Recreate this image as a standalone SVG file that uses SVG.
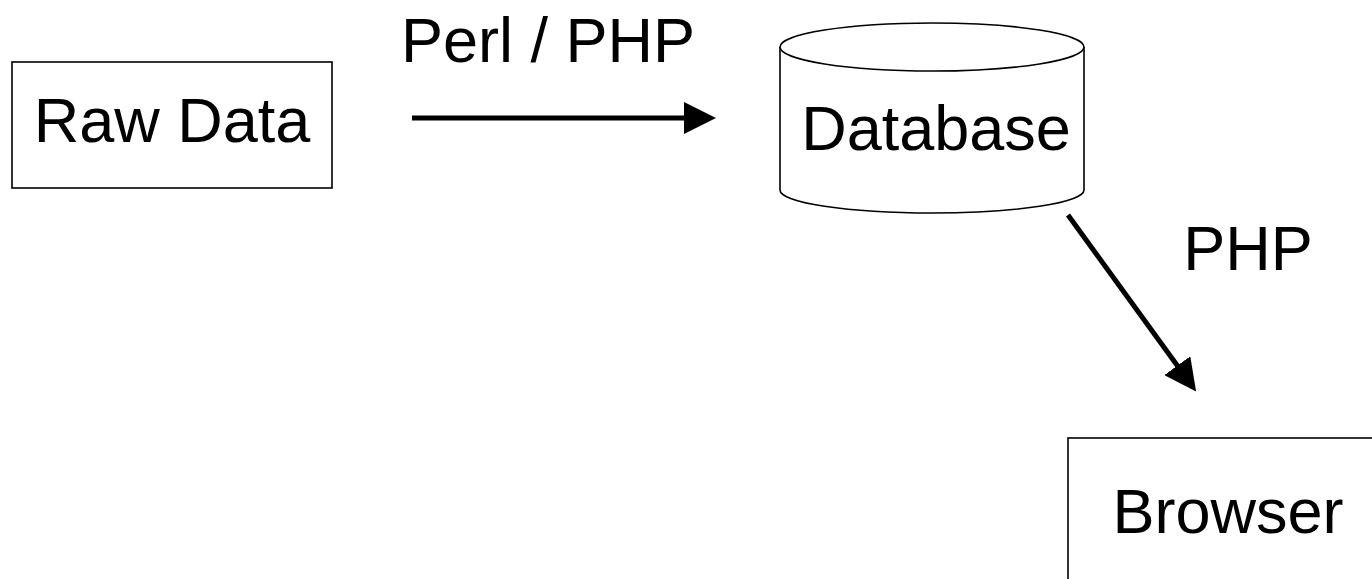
<svg xmlns="http://www.w3.org/2000/svg" width="1372" height="579" viewBox="0 0 1372 579">
<defs>
<style>
.box{fill:#fff;stroke:#000;stroke-width:1.6}
.lbl{font-family:"Liberation Sans",Arial,sans-serif;font-size:63px;fill:#000}
.conn{stroke:#000;stroke-width:5;fill:none}
</style>
<marker id="arr" markerUnits="userSpaceOnUse" viewBox="0 0 32 32" refX="2" refY="16" markerWidth="32" markerHeight="32" orient="auto">
<path d="M0,0 L32,16 L0,32 Z" fill="#000"/>
</marker>
</defs>
<rect width="1372" height="579" fill="#fff"/>
<g id="raw-data">
<rect class="box" x="12" y="62" width="320" height="126"/>
<text class="lbl" x="172" y="142" text-anchor="middle">Raw Data</text>
</g>
<g id="database">
<path class="box" d="M780,47 V190 A152 23 0 0 0 1084 190 V47"/>
<ellipse class="box" cx="932" cy="47" rx="152" ry="24"/>
<text class="lbl" x="936" y="150" text-anchor="middle">Database</text>
</g>
<g id="browser">
<rect class="box" x="1068" y="438" width="320" height="160"/>
<text class="lbl" x="1228" y="533" text-anchor="middle">Browser</text>
</g>
<g id="connectors">
<line class="conn" x1="412" y1="118" x2="686" y2="118" marker-end="url(#arr)"/>
<text class="lbl" x="548" y="62" text-anchor="middle">Perl / PHP</text>
<line class="conn" x1="1068" y1="215" x2="1178.5" y2="367.3" marker-end="url(#arr)"/>
<text class="lbl" x="1248" y="270" text-anchor="middle">PHP</text>
</g>
</svg>
